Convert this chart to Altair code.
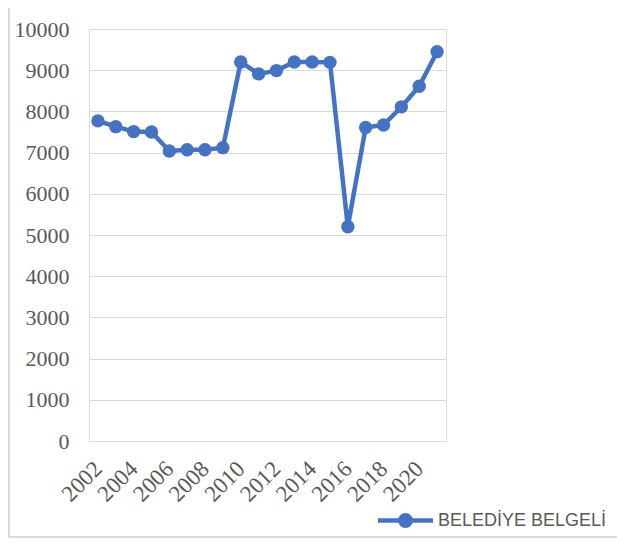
import altair as alt
import pandas as pd

years = list(range(2002, 2022))
values = [7770, 7630, 7510, 7500, 7040, 7070, 7070, 7120, 9200, 8910,
          8990, 9200, 9200, 9190, 5200, 7610, 7670, 8110, 8610, 9450]
series_name = "BELEDİYE BELGELİ"
x_tick_labels = [2002, 2004, 2006, 2008, 2010, 2012, 2014, 2016, 2018, 2020]
y_ticks = list(range(0, 10001, 1000))

df = pd.DataFrame({"year": years, "value": values, "series": [series_name] * len(years)})

BLUE = "#4472C4"
GRAY_TXT = "#595959"
GRID = "#D9D9D9"

x_enc = alt.X(
    "year:O",
    scale=alt.Scale(type="point", padding=0.5),
    axis=alt.Axis(
        values=x_tick_labels, title=None, labelAngle=-45, labelAlign="right",
        labelBaseline="middle", labelPadding=24, ticks=False, domain=False,
        labelFont="Liberation Serif", labelFontSize=23, labelColor=GRAY_TXT,
        labelOverlap=False, labelLimit=300,
    ),
)
y_enc = alt.Y(
    "value:Q",
    scale=alt.Scale(domain=[0, 10000], nice=False),
    axis=alt.Axis(
        values=y_ticks, format="d", title=None, ticks=False, domain=False, grid=True,
        gridColor=GRID, gridWidth=1.2, labelPadding=20,
        labelFont="Liberation Serif", labelFontSize=22, labelColor=GRAY_TXT,
    ),
)

legend_path = ("M-3.44,0H3.44M-0.66,0A0.66,0.66,0,1,0,0.66,0"
               "A0.66,0.66,0,1,0,-0.66,0Z")

line = alt.Chart(df).mark_line(strokeWidth=4.5).encode(
    x=x_enc, y=y_enc,
    color=alt.Color(
        "series:N", scale=alt.Scale(range=[BLUE]),
        legend=alt.Legend(
            title=None, orient="none", legendX=306, legendY=481, padding=0,
            symbolType=legend_path, symbolSize=256, symbolStrokeWidth=4.5,
            symbolFillColor=BLUE, symbolStrokeColor=BLUE, symbolOpacity=1,
            labelOffset=22, labelFont="Liberation Sans", labelFontSize=18,
            labelColor=GRAY_TXT, labelLimit=300,
        ),
    ),
)
points = alt.Chart(df).mark_point(filled=True, size=180, opacity=1, color=BLUE).encode(
    x=x_enc, y=y_enc
)

border_left = alt.Chart(df).mark_rule(color=GRID, strokeWidth=1.5).encode(
    x=alt.value(-80), y=alt.value(-21), y2=alt.value(508)
)
border_bottom = alt.Chart(df).mark_rule(color=GRID, strokeWidth=1.5).encode(
    x=alt.value(-80), x2=alt.value(528), y=alt.value(508)
)

chart = alt.layer(line, points, border_left, border_bottom).properties(
    width=357, height=412,
    autosize=alt.AutoSizeParams(type="none"),
    padding={"left": 81, "top": 21, "right": 171, "bottom": 97},
).configure_view(stroke=None).configure(background="white")

chart.save("out.html", embed_options={"renderer": "svg", "actions": False})
